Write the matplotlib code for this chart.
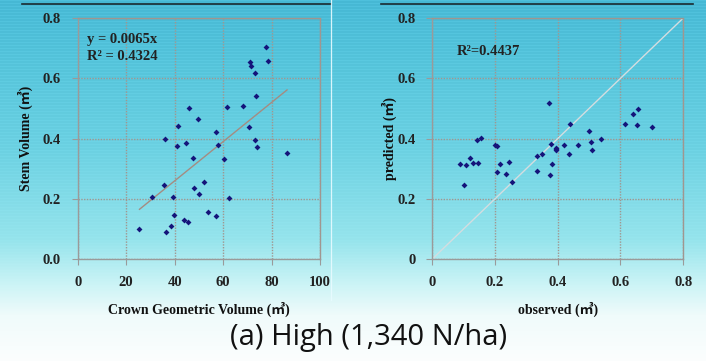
import numpy as np
import matplotlib
matplotlib.use("Agg")
import matplotlib.pyplot as plt
from matplotlib.lines import Line2D

# Crown geometric volume vs. stem volume
crown_volume = [77.7, 78.5, 71.3, 71.5, 73.3, 73.7, 46.1, 61.6, 68.3, 49.7,
                41.3, 70.8, 57.0, 36.2, 73.1, 40.9, 44.8, 57.9, 74.2, 47.5,
                60.2, 86.2, 35.8, 52.1, 30.7, 39.5, 48.1, 50.1, 62.5, 39.9,
                25.5, 36.6, 38.4, 44.0, 45.7, 53.8, 57.1]
stem_volume = [0.704, 0.657, 0.654, 0.642, 0.619, 0.540, 0.503, 0.506, 0.508, 0.466,
               0.442, 0.440, 0.422, 0.398, 0.396, 0.377, 0.385, 0.380, 0.372, 0.336,
               0.334, 0.351, 0.246, 0.256, 0.205, 0.207, 0.235, 0.215, 0.203, 0.148,
               0.101, 0.089, 0.109, 0.130, 0.123, 0.158, 0.145]
slope = 0.0065
r2_fit = 0.4324
fit_range = [25.5, 86.4]

# Observed vs. predicted stem volume
observed = [0.371, 0.655, 0.640, 0.615, 0.652, 0.701, 0.439, 0.501, 0.539, 0.505,
            0.508, 0.464, 0.421, 0.437, 0.378, 0.394, 0.394, 0.394, 0.350, 0.334,
            0.383, 0.333, 0.376, 0.143, 0.157, 0.121, 0.088, 0.108, 0.130, 0.147,
            0.200, 0.206, 0.215, 0.245, 0.207, 0.234, 0.102, 0.256]
predicted = [0.519, 0.499, 0.483, 0.450, 0.446, 0.440, 0.450, 0.427, 0.399, 0.390,
             0.361, 0.379, 0.379, 0.349, 0.381, 0.370, 0.365, 0.361, 0.350, 0.342,
             0.315, 0.292, 0.278, 0.397, 0.401, 0.337, 0.316, 0.314, 0.318, 0.320,
             0.380, 0.377, 0.316, 0.323, 0.290, 0.284, 0.247, 0.256]
r2_pred = 0.4437

left_xticks = [0, 20, 40, 60, 80, 100]
left_yticks = [0.0, 0.2, 0.4, 0.6, 0.8]
left_yticklabels = ["0.0", "0.2", "0.4", "0.6", "0.8"]
right_ticks = [0, 0.2, 0.4, 0.6, 0.8]
right_ticklabels = ["0", "0.2", "0.4", "0.6", "0.8"]

caption = "(a) High (1,340 N/ha)"

W, H = 706, 361
fig = plt.figure(figsize=(W / 100, H / 100), dpi=100)

# Slide-style background: teal gradient fading to white, with faint scan stripes
bg = fig.add_axes([0, 0, 1, 1], zorder=-10)
rows = np.arange(H)
stops_y = np.array([0, 60, 150, 240, 285, 315, 361])
stops_c = np.array([
    [70, 184, 212],
    [84, 195, 218],
    [108, 209, 226],
    [150, 228, 236],
    [205, 244, 246],
    [240, 251, 251],
    [252, 254, 254],
], dtype=float)
col = np.stack([np.interp(rows, stops_y, stops_c[:, k]) for k in range(3)], axis=1)
stripe = np.where(rows % 3 == 0, 8.0, 0.0) * np.clip(1 - rows / 300, 0, 1)
col = np.clip(col + stripe[:, None], 0, 255) / 255.0
img = np.repeat(col[:, None, :], W, axis=1)
bg.imshow(img, aspect="auto", extent=[0, W, H, 0], interpolation="nearest")
bg.set_xlim(0, W)
bg.set_ylim(H, 0)
bg.axis("off")
# panel header rules and separator
bg.add_line(Line2D([22, 331], [4, 4], color="#1a2a30", lw=1.2))
bg.add_line(Line2D([381, 693], [4, 4], color="#1a2a30", lw=1.2))
bg.add_line(Line2D([331, 331], [0, 300], color="#e8fbff", lw=0.9, alpha=0.9))

serif = ["Liberation Serif", "Noto Sans CJK KR"]
tick_font = dict(family=serif, weight="bold", size=10.5, color="#222222")
grid_color = "#a09690"
point_color = "#14147a"


def style_axes(ax):
    ax.patch.set_alpha(0)
    for side in ("left", "bottom"):
        ax.spines[side].set_color("#9a9a9a")
        ax.spines[side].set_linewidth(1.0)
    for side in ("top", "right"):
        ax.spines[side].set_color(grid_color)
        ax.spines[side].set_linestyle((0, (1, 1)))
        ax.spines[side].set_linewidth(1.0)
    ax.grid(True, color=grid_color, linestyle=(0, (1, 1)), linewidth=1.0)
    ax.set_axisbelow(True)
    ax.tick_params(direction="out", length=4, width=0.8, color="#9a9a9a")
    ax.tick_params(axis="x", pad=8)
    ax.tick_params(axis="y", pad=8)
    for lab in ax.get_xticklabels() + ax.get_yticklabels():
        lab.set_fontfamily(serif)
        lab.set_fontweight("bold")
        lab.set_fontsize(10.5)
        lab.set_color("#222222")


# Left panel: regression through origin
ax1 = fig.add_axes([77.7 / W, 1 - 259.3 / H, (320 - 77.7) / W, (259.3 - 18) / H])
ax1.set_xlim(0, 100)
ax1.set_ylim(0, 0.8)
ax1.set_xticks(left_xticks)
ax1.set_yticks(left_yticks)
ax1.set_yticklabels(left_yticklabels)
fx = np.array(fit_range)
ax1.plot(fx, slope * fx, color="#a48c82", lw=1.0, zorder=2)
ax1.scatter(crown_volume, stem_volume, marker="D", s=9, color=point_color, zorder=3, linewidths=0)
style_axes(ax1)
ax1.text(0.04, 0.91, f"y = {slope}x", transform=ax1.transAxes, ha="left", va="center", **tick_font)
ax1.text(0.04, 0.84, f"R\u00b2 = {r2_fit}", transform=ax1.transAxes, ha="left", va="center", **tick_font)
ax1.set_xlabel("Crown Geometric Volume (\u33a5)", fontfamily=serif, fontweight="bold",
               fontsize=10, color="#111111", labelpad=9)
ax1.set_ylabel("Stem Volume (\u33a5)", fontfamily=serif, fontweight="bold",
               fontsize=10, color="#111111", labelpad=7)

# Right panel: observed vs. predicted with 1:1 line
ax2 = fig.add_axes([432 / W, 1 - 259.3 / H, (683.3 - 432) / W, (259.3 - 18) / H])
ax2.set_xlim(0, 0.8)
ax2.set_ylim(0, 0.8)
ax2.set_xticks(right_ticks)
ax2.set_xticklabels(right_ticklabels)
ax2.set_yticks(right_ticks)
ax2.set_yticklabels(right_ticklabels)
ax2.plot([0, 0.8], [0, 0.8], color="#d4dde0", lw=1.0, zorder=2)
ax2.scatter(observed, predicted, marker="D", s=9, color=point_color, zorder=3, linewidths=0)
style_axes(ax2)
ax2.text(0.1, 0.86, f"R\u00b2={r2_pred}", transform=ax2.transAxes, ha="left", va="center", **tick_font)
ax2.set_xlabel("observed (\u33a5)", fontfamily=serif, fontweight="bold",
               fontsize=10, color="#111111", labelpad=9)
ax2.set_ylabel("predicted (\u33a5)", fontfamily=serif, fontweight="bold",
               fontsize=10, color="#111111", labelpad=0)

fig.text(369 / W, 1 - 338 / H, caption, ha="center", va="center",
         fontsize=21, color="#111111", family=["Open Sans", "DejaVu Sans"])

fig.savefig("out.png", dpi=100)
